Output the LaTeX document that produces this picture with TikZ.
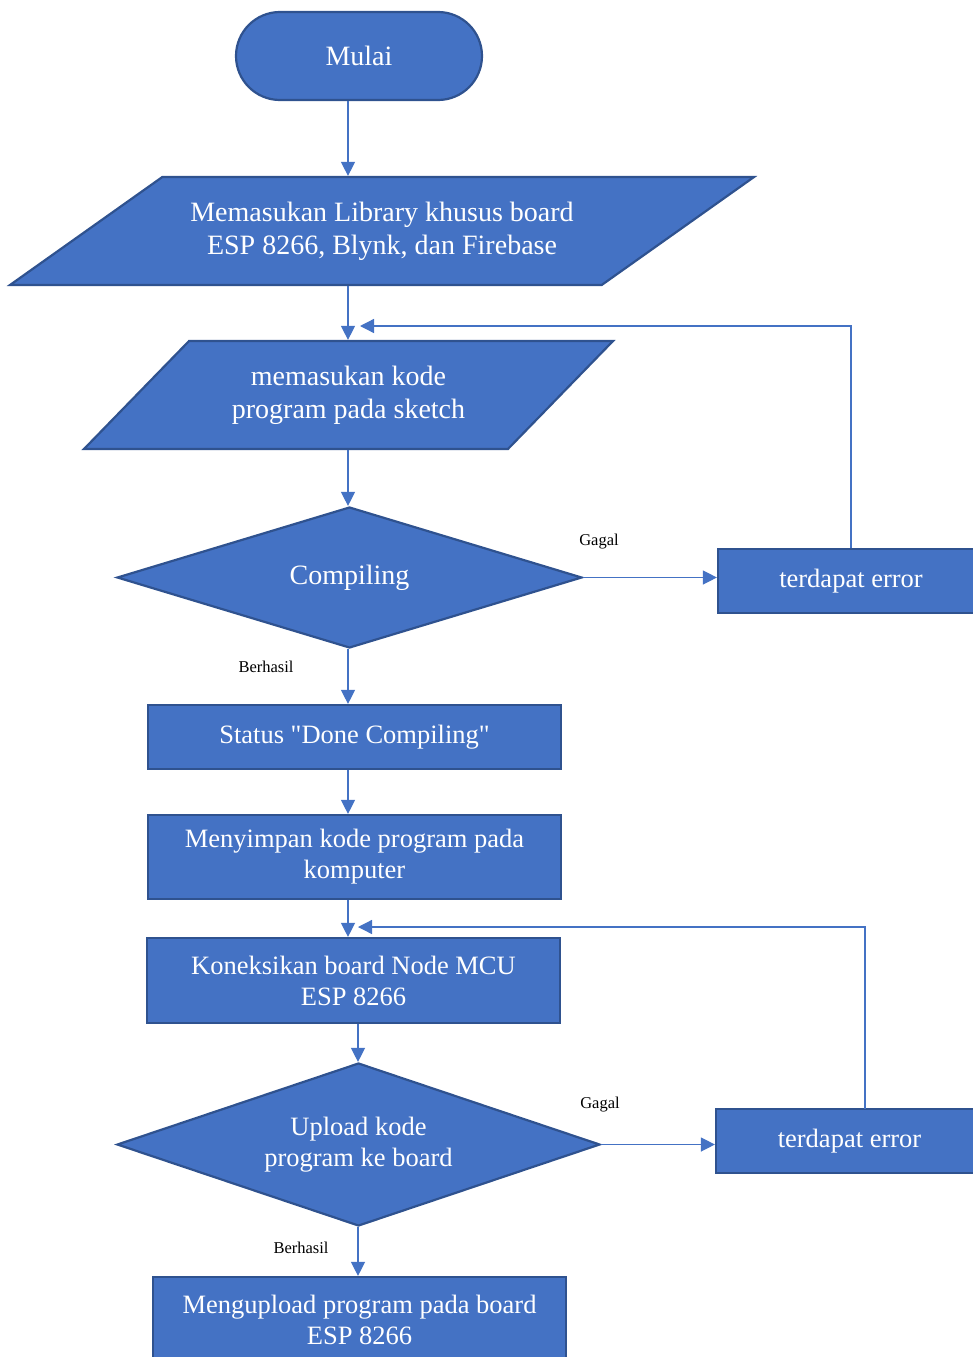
\documentclass[tikz,border=0pt]{standalone}
\usepackage{fontspec}
\setmainfont{Liberation Serif}
\newfontfamily\plainfont{Liberation Serif}
\usetikzlibrary{arrows.meta, shapes.geometric}
\definecolor{bfill}{RGB}{ 68,114,196}
\definecolor{bline}{RGB}{ 47, 82,143}
\definecolor{fcol} {RGB}{ 68,114,196}
\tikzset{
  BX/.style={fill=bfill, draw=bline, line width=2.2pt, text=white,
             font=\fontsize{26.5}{31}\selectfont, align=center, inner sep=0pt},
  BXL/.style={BX, font=\fontsize{28}{33}\selectfont},
  TB/.style={BXL, rectangle, rounded corners=44pt},
  PB/.style={BX, rectangle},
  IO/.style={BXL, trapezium, trapezium stretches body=true},
  DC/.style={BX, diamond},
  FL/.style={fcol, line width=1.3pt, -{Triangle[length=14pt, width=14pt]}},
  LB/.style={black, font=\fontsize{16.5}{19}\selectfont, inner sep=0pt},
}

\begin{document}
\begin{tikzpicture}[x=1pt, y=-1pt]
\useasboundingbox (0,0) rectangle (973,1357);

%% ================================================================
%%  SHAPES
%% ================================================================
\node[TB, minimum width=246pt, minimum height=88pt] (start) at (359,56) {Mulai};

\node[IO, minimum width=744pt, minimum height=108pt,
      trapezium left angle=21.0, trapezium right angle=159.0]
  (lib) at (382,231) {Memasukan Library khusus board\\ESP 8266, Blynk, dan Firebase};

\node[IO, minimum width=529pt, minimum height=108pt,
      trapezium left angle=29.1, trapezium right angle=150.9]
  (sketch) at (348.5,395) {memasukan kode\\program pada sketch};

\node[DC, BXL, aspect=3.3, minimum width=465pt, minimum height=141pt]
  (dcomp) at (349.5,577.5) {Compiling};

\node[PB, minimum width=266pt, minimum height=64pt] (err1) at (851,581) {terdapat error};

\node[PB, minimum width=413pt, minimum height=64pt] (status) at (354.5,737) {Status \plainfont"Done Compiling"};

\node[PB, minimum width=413pt, minimum height=84pt] (save) at (354.5,857) {Menyimpan kode program pada\\komputer};

\node[PB, minimum width=413pt, minimum height=85pt] (conn) at (353.5,980.5) {Koneksikan board Node MCU\\ESP 8266};

\node[DC, aspect=2.96, minimum width=483pt, minimum height=163pt]
  (dup) at (358.5,1144.5) {Upload kode\\program ke board};

\node[PB, minimum width=267pt, minimum height=64pt] (err2) at (849.5,1141) {terdapat error};

\node[PB, minimum width=413pt, minimum height=85pt] (upl) at (359.5,1319.5) {Mengupload program pada board\\ESP 8266};

%% ================================================================
%%  CONNECTORS
%% ================================================================
\coordinate (colA) at (348,0);
\coordinate (colB) at (358,0);
\coordinate (join1) at (360,326);
\coordinate (join2) at (358,927);
\coordinate (up2) at (865,1109);

\draw[FL] (start.south -| colA) -- (lib.north -| colA);
\draw[FL] (lib.south -| colA) -- (sketch.north -| colA);
\draw[FL] (sketch.south -| colA) -- (dcomp.north -| colA);

% compile fails
\draw[FL] (dcomp.east) -- (err1.west |- dcomp.east);
\draw[FL] (err1.north) |- (join1);

\draw[FL] (dcomp.south -| colA) -- (status.north -| colA);
\draw[FL] (status.south -| colA) -- (save.north -| colA);
\draw[FL] (save.south -| colA) -- (conn.north -| colA);
\draw[FL] (conn.south -| colB) -- (dup.north -| colB);

% upload fails
\draw[FL] (dup.east) -- (err2.west |- dup.east);
\draw[FL] (up2) |- (join2);

\draw[FL] (dup.south -| colB) -- (upl.north -| colB);

% labels
\node[LB] (g1) at (599,542) {Gagal};
\node[LB] (b1) at (266,667) {Berhasil};
\node[LB] (g2) at (600,1105) {Gagal};
\node[LB] (b2) at (301,1248) {Berhasil};

\end{tikzpicture}
\end{document}
